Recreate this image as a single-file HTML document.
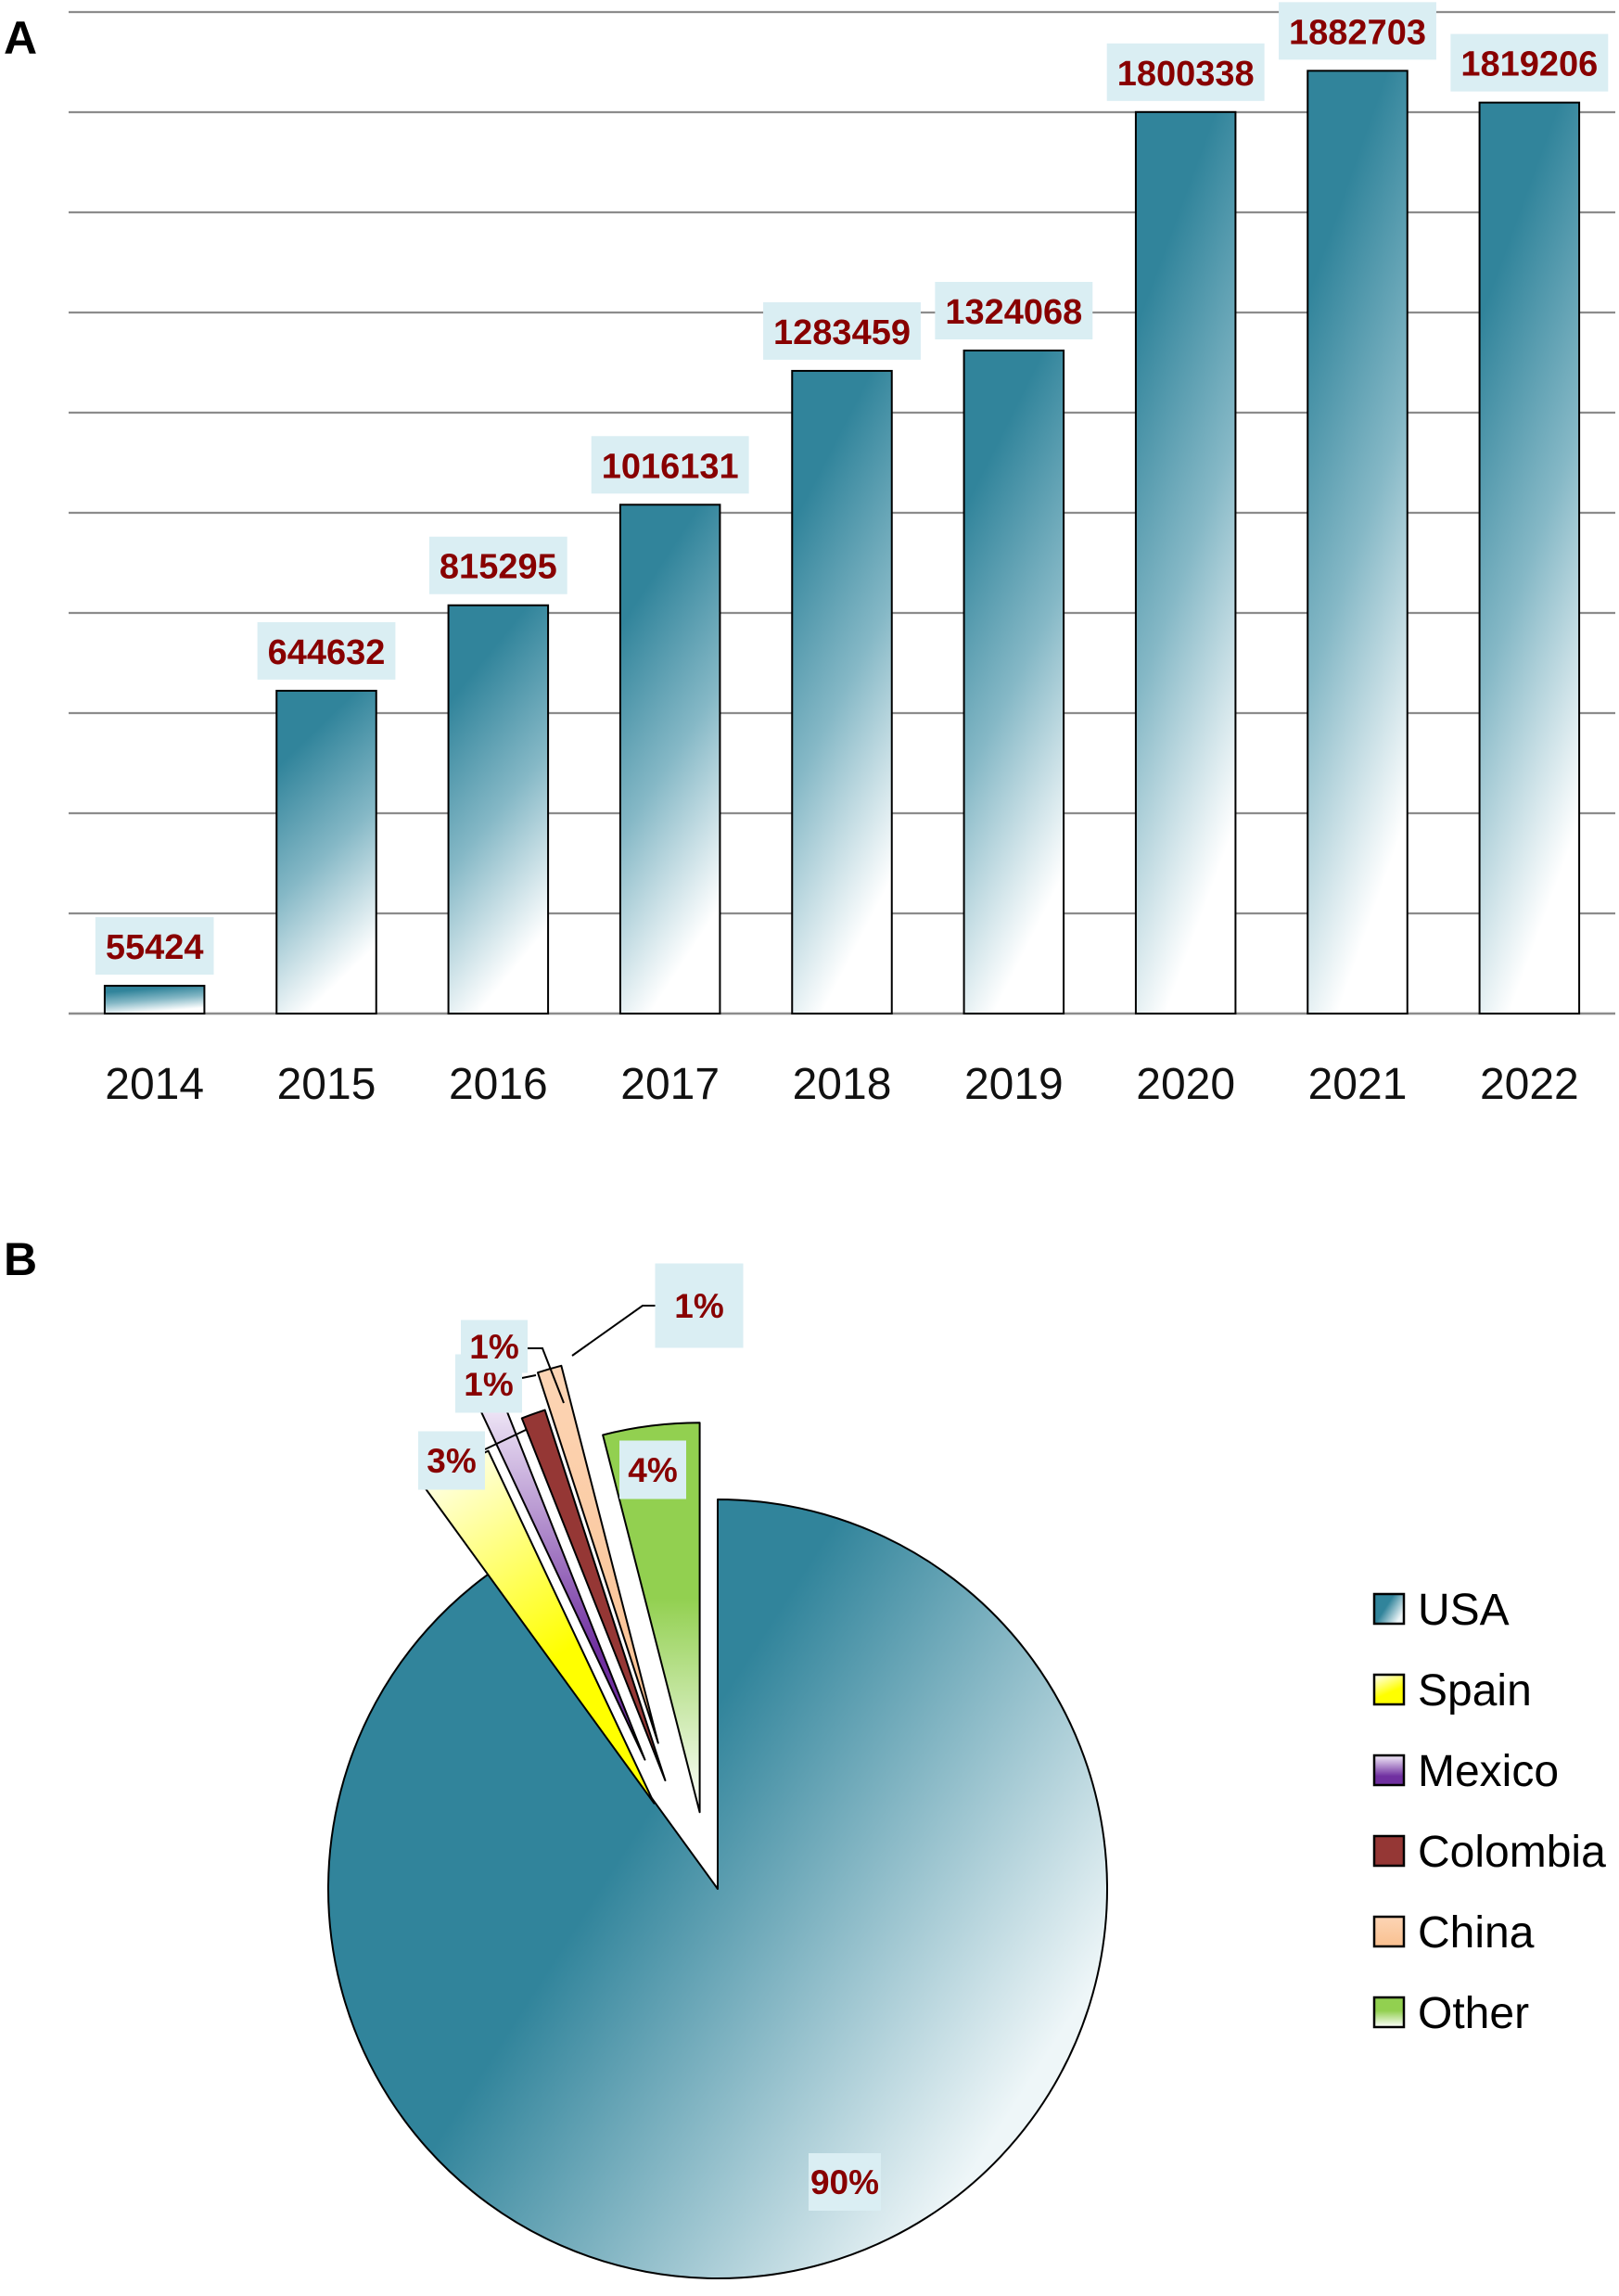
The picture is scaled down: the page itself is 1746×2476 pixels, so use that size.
<!DOCTYPE html>
<html><head><meta charset="utf-8"><style>
html,body{margin:0;padding:0;background:#fff;}
svg{display:block;font-family:"Liberation Sans",sans-serif;}
</style></head><body>
<svg id="fig" width="1746" height="2476" viewBox="0 0 1746 2476" xmlns="http://www.w3.org/2000/svg">
<defs>
<linearGradient id="barGrad" x1="0" y1="0" x2="0.3" y2="1">
<stop offset="0" stop-color="#31849b"/><stop offset="0.22" stop-color="#31849b"/><stop offset="0.6" stop-color="#85b8c6"/><stop offset="1" stop-color="#ffffff"/>
</linearGradient>
<linearGradient id="gUSA" x1="0.2" y1="0.3" x2="0.9" y2="0.75">
<stop offset="0" stop-color="#31849b"/><stop offset="0.28" stop-color="#31849b"/><stop offset="1" stop-color="#eef6f8"/>
</linearGradient>
<linearGradient id="gSpain" x1="0" y1="0" x2="0.3" y2="0.7">
<stop offset="0" stop-color="#ffffff"/><stop offset="1" stop-color="#ffff00"/>
</linearGradient>
<linearGradient id="gMexico" x1="0" y1="0" x2="0" y2="0.7">
<stop offset="0" stop-color="#f4eefa"/><stop offset="1" stop-color="#7030a0"/>
</linearGradient>
<linearGradient id="gColombia" x1="0" y1="0" x2="0" y2="1">
<stop offset="0" stop-color="#953735"/><stop offset="1" stop-color="#953735"/>
</linearGradient>
<linearGradient id="gChina" x1="0" y1="0" x2="0" y2="1">
<stop offset="0" stop-color="#fcd5b5"/><stop offset="1" stop-color="#fac090"/>
</linearGradient>
<linearGradient id="gOther" x1="0" y1="0" x2="0" y2="1">
<stop offset="0" stop-color="#92d050"/><stop offset="0.45" stop-color="#92d050"/><stop offset="1" stop-color="#ffffff"/>
</linearGradient>
</defs>
<text x="4" y="58" font-size="50" font-weight="bold">A</text>
<text x="4" y="1375" font-size="50" font-weight="bold">B</text>
<g id="bars"></g>
<g id="pie"></g>
<g id="legend"></g>
</svg>
<script>
const years = ["2014","2015","2016","2017","2018","2019","2020","2021","2022"];
const counts = [55424, 644632, 815295, 1016131, 1283459, 1324068, 1800338, 1882703, 1819206];
const yMax = 2000000;
const yStep = 200000;

const countries = ["USA","Spain","Mexico","Colombia","China","Other"];
const shares = [90, 3, 1, 1, 1, 4];
const shareLabels = ["90%","3%","1%","1%","1%","4%"];

const NS = "http://www.w3.org/2000/svg";
function mk(tag, attrs, parent){const e=document.createElementNS(NS,tag);for(const k in attrs)e.setAttribute(k,attrs[k]);parent.appendChild(e);return e;}

// ---- Bar chart ----
const plotL=74, plotR=1742, plotT=13, plotB=1093;
const yScale=v=>plotB-(v/yMax)*(plotB-plotT);
const band=(plotR-plotL)/years.length;
const xCenter=i=>plotL+band*(i+0.5);
const barW=band*0.58;
const bars=document.getElementById('bars');
for(let v=yStep; v<=yMax; v+=yStep){
  const l=mk('line',{x1:plotL,x2:plotR,y1:yScale(v),y2:yScale(v),stroke:'#8c8c8c','stroke-width':2.2},bars);
  
  
}
const base=mk('line',{x1:plotL,x2:plotR,y1:plotB,y2:plotB,stroke:'#8c8c8c','stroke-width':2.5},bars);


counts.forEach((c,i)=>{
  const cx=xCenter(i), top=yScale(c);
  const r=mk('rect',{x:cx-barW/2,y:top,width:barW,height:plotB-top,fill:'url(#barGrad)',stroke:'#000','stroke-width':2},bars);
  
  
  const txt=String(c);
  const tw=txt.length*0.556*38;
  const bw=tw+22, bh=62;
  const by=top-12-bh;
  const b=mk('rect',{x:cx-bw/2,y:by,width:bw,height:bh,fill:'#daeef3'},bars);
  
  
  const t=mk('text',{x:cx,y:by+45,'text-anchor':'middle','font-size':38,'font-weight':'bold',fill:'#880000'},bars);
  t.textContent=txt;
  
  
  const yl=mk('text',{x:cx,y:1185,'text-anchor':'middle','font-size':48,fill:'#111'},bars);
  yl.textContent=years[i];
  
  
});

// ---- Pie chart ----
const pcx=774, pcy=2037, pr=420;
const explode=[0,115,160,130,170,85];
const fills=['url(#gUSA)','url(#gSpain)','url(#gMexico)','url(#gColombia)','url(#gChina)','url(#gOther)'];
const labelPos=[[911,2353],[487,1575],[527,1492],[533,1452],[754,1408],[704,1585]];
const labelBox=[[78,62],[72,63],[72,63],[72,57],[95,91],[72,63]];
const pie=document.getElementById('pie');
const total=shares.reduce((a,b)=>a+b,0);
const pt=(cx,cy,r,a)=>[cx+r*Math.sin(a*Math.PI/180), cy-r*Math.cos(a*Math.PI/180)];
let acc=0;
shares.forEach((s,i)=>{
  const a0=acc/total*360, a1=(acc+s)/total*360; acc+=s;
  const mid=(a0+a1)/2;
  const ea=i===0?mid:mid-6;
  const ox=explode[i]*Math.sin(ea*Math.PI/180), oy=-explode[i]*Math.cos(ea*Math.PI/180);
  const cx=pcx+ox, cy=pcy+oy;
  const p0=pt(cx,cy,pr,a0), p1=pt(cx,cy,pr,a1);
  const large=(a1-a0)>180?1:0;
  const d=`M${cx},${cy} L${p0[0]},${p0[1]} A${pr},${pr} 0 ${large} 1 ${p1[0]},${p1[1]} Z`;
  const p=mk('path',{d,fill:fills[i],stroke:'#000','stroke-width':2,'stroke-linejoin':'round'},pie);
  
  
});
const leaders=[
  [[567,1542],[523,1563]],
  [[578,1483],[563,1486]],
  [[608,1513],[585,1454],[569,1454]],
  [[617,1462],[693,1408],[707,1408]]
];
leaders.forEach(pts=>{
  const l=mk('polyline',{points:pts.map(p=>p.join(',')).join(' '),fill:'none',stroke:'#000','stroke-width':2},pie);
  
  
});
[0,1,2,3,4,5].forEach(i=>{
  const [x,y]=labelPos[i];
  const [w,h]=labelBox[i];
  const b=mk('rect',{x:x-w/2,y:y-h/2,width:w,height:h,fill:'#daeef3'},pie);
  
  
  const t=mk('text',{x:x,y:y+13,'text-anchor':'middle','font-size':37,'font-weight':'bold',fill:'#880000'},pie);
  t.textContent=shareLabels[i];
  
  
});

// ---- Legend ----
const lg=document.getElementById('legend');
countries.forEach((c,i)=>{
  const y=1719+i*87;
  const s=mk('rect',{x:1482,y:y,width:32,height:32,fill:fills[i],stroke:'#000','stroke-width':2.5},lg);
  
  
  const t=mk('text',{x:1529,y:y+33,'font-size':48,fill:'#000'},lg);
  t.textContent=c;
  
  
});
</script>
</body></html>
